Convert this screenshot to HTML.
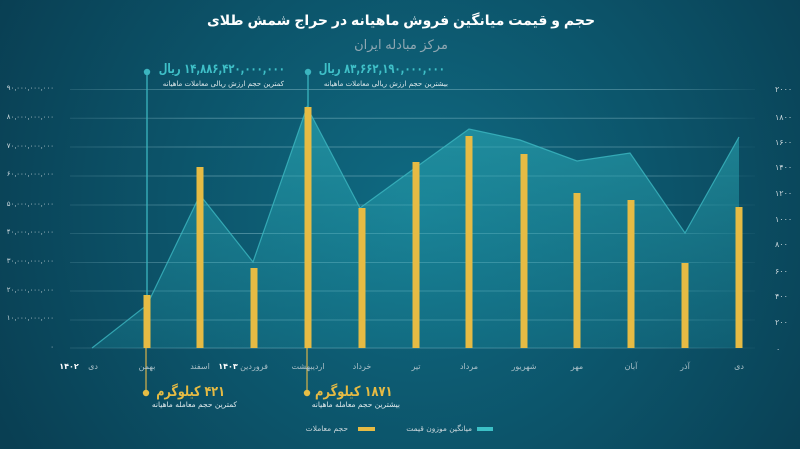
<!DOCTYPE html>
<html><head><meta charset="utf-8">
<style>
html,body{margin:0;padding:0;}
body{width:800px;height:449px;overflow:hidden;background:#0b4a5f;position:relative;}
svg{display:block;position:absolute;left:0;top:0;}
text{font-family:"Liberation Sans","DejaVu Sans",sans-serif;}
.t{position:absolute;white-space:nowrap;direction:rtl;text-align:right;line-height:1;font-family:"DejaVu Sans","Liberation Sans",sans-serif;}
.sx{transform-origin:100% 50%;}
</style></head>
<body>
<svg width="800" height="449" viewBox="0 0 800 449" xmlns="http://www.w3.org/2000/svg">
<defs>
<radialGradient id="bg" cx="420" cy="210" r="470" gradientUnits="userSpaceOnUse">
<stop offset="0" stop-color="#0f6a82"/>
<stop offset="0.55" stop-color="#0c5369"/>
<stop offset="1" stop-color="#093f53"/>
</radialGradient>
<linearGradient id="area" x1="0" y1="100" x2="0" y2="348" gradientUnits="userSpaceOnUse">
<stop offset="0" stop-color="#2fb0bb" stop-opacity="0.6"/>
<stop offset="1" stop-color="#1f97a8" stop-opacity="0.25"/>
</linearGradient>
<linearGradient id="grid" x1="70" y1="0" x2="755" y2="0" gradientUnits="userSpaceOnUse">
<stop offset="0" stop-color="#9fd0da" stop-opacity="0.15"/>
<stop offset="0.2" stop-color="#9fd0da" stop-opacity="0.4"/>
<stop offset="0.85" stop-color="#9fd0da" stop-opacity="0.35"/>
<stop offset="1" stop-color="#9fd0da" stop-opacity="0.05"/>
</linearGradient>
</defs>
<rect width="800" height="449" fill="url(#bg)"/>

<!-- title -->
<text x="401" y="25" text-anchor="middle" font-size="14" font-weight="bold" fill="#ffffff">حجم و قیمت میانگین فروش ماهیانه در حراج شمش طلای</text>
<text x="401" y="49" text-anchor="middle" font-size="13" fill="#8fa7b2">مرکز مبادله ایران</text>

<!-- grid -->
<g stroke="url(#grid)" stroke-width="1">
<line x1="70" y1="89.5" x2="755" y2="89.5"/>
<line x1="70" y1="118.3" x2="755" y2="118.3"/>
<line x1="70" y1="147" x2="755" y2="147"/>
<line x1="70" y1="176" x2="755" y2="176"/>
<line x1="70" y1="205" x2="755" y2="205"/>
<line x1="70" y1="233.5" x2="755" y2="233.5"/>
<line x1="70" y1="262.5" x2="755" y2="262.5"/>
<line x1="70" y1="291" x2="755" y2="291"/>
<line x1="70" y1="320" x2="755" y2="320"/>
<line x1="70" y1="348" x2="755" y2="348"/>
</g>

<!-- area -->
<polygon points="92,348 147,305 200,195 253,262 307,107 360,208 415,168 469,129 520,140 577,161 630,153 685,233 739,137 739,348" fill="url(#area)"/>
<polyline points="92,348 147,305 200,195 253,262 307,107 360,208 415,168 469,129 520,140 577,161 630,153 685,233 739,137" fill="none" stroke="#3cb8c2" stroke-width="1.2" stroke-opacity="0.8"/>

<!-- annotation lines -->
<line x1="147" y1="72" x2="147" y2="295" stroke="#3bb5c0" stroke-width="1.3"/>
<circle cx="147" cy="72" r="3.2" fill="#3bb5c0"/>
<line x1="308" y1="72" x2="308" y2="107" stroke="#3bb5c0" stroke-width="1.3"/>
<circle cx="308" cy="72" r="3.2" fill="#3bb5c0"/>
<line x1="146" y1="348" x2="146" y2="393" stroke="#d8b24a" stroke-width="1.2"/>
<circle cx="146" cy="393" r="3.2" fill="#e6bd45"/>
<line x1="307" y1="348" x2="307" y2="393" stroke="#d8b24a" stroke-width="1.2"/>
<circle cx="307" cy="393" r="3.2" fill="#e6bd45"/>

<!-- bars -->
<g fill="#e6bb44">
<rect x="143.5" y="295" width="7" height="53"/>
<rect x="196.5" y="167" width="7" height="181"/>
<rect x="250.5" y="268" width="7" height="80"/>
<rect x="304.5" y="107" width="7" height="241"/>
<rect x="358.5" y="208" width="7" height="140"/>
<rect x="412.5" y="162" width="7" height="186"/>
<rect x="465.5" y="136" width="7" height="212"/>
<rect x="520.5" y="154" width="7" height="194"/>
<rect x="573.5" y="193" width="7" height="155"/>
<rect x="627.5" y="200" width="7" height="148"/>
<rect x="681.5" y="263" width="7" height="85"/>
<rect x="735.5" y="207" width="7" height="141"/>
</g>

<!-- left axis -->
<g font-size="7" fill="#c9d6db" text-anchor="end">
<text x="54" y="90">۹۰,۰۰۰,۰۰۰,۰۰۰</text>
<text x="54" y="119">۸۰,۰۰۰,۰۰۰,۰۰۰</text>
<text x="54" y="148">۷۰,۰۰۰,۰۰۰,۰۰۰</text>
<text x="54" y="176">۶۰,۰۰۰,۰۰۰,۰۰۰</text>
<text x="54" y="206">۵۰,۰۰۰,۰۰۰,۰۰۰</text>
<text x="54" y="234">۴۰,۰۰۰,۰۰۰,۰۰۰</text>
<text x="54" y="263">۳۰,۰۰۰,۰۰۰,۰۰۰</text>
<text x="54" y="292">۲۰,۰۰۰,۰۰۰,۰۰۰</text>
<text x="54" y="320">۱۰,۰۰۰,۰۰۰,۰۰۰</text>
<text x="54" y="349">۰</text>
</g>

<!-- right axis -->
<g font-size="8" fill="#c9d6db" text-anchor="start">
<text x="775" y="92">۲۰۰۰</text>
<text x="775" y="120">۱۸۰۰</text>
<text x="775" y="145">۱۶۰۰</text>
<text x="775" y="170">۱۴۰۰</text>
<text x="775" y="196">۱۲۰۰</text>
<text x="775" y="222">۱۰۰۰</text>
<text x="775" y="247">۸۰۰</text>
<text x="775" y="274">۶۰۰</text>
<text x="775" y="299">۴۰۰</text>
<text x="775" y="325">۲۰۰</text>
<text x="776" y="352">۰</text>
</g>

<!-- x labels -->
<g font-size="8" fill="#aac0c8" text-anchor="middle">
<text x="93" y="369">دی</text>
<text x="147" y="369">بهمن</text>
<text x="200" y="369">اسفند</text>
<text x="254" y="369">فروردین</text>
<text x="308" y="369">اردیبهشت</text>
<text x="362" y="369">خرداد</text>
<text x="416" y="369">تیر</text>
<text x="469" y="369">مرداد</text>
<text x="524" y="369">شهریور</text>
<text x="577" y="369">مهر</text>
<text x="631" y="369">آبان</text>
<text x="685" y="369">آذر</text>
<text x="739" y="369">دی</text>
</g>
<text x="69" y="369" font-size="8" font-weight="bold" fill="#ffffff" text-anchor="middle">۱۴۰۲</text>
<text x="228" y="369" font-size="8" font-weight="bold" fill="#ffffff" text-anchor="middle">۱۴۰۳</text>

<!-- legend rects -->
<rect x="358" y="427" width="17" height="4" fill="#e6bb44"/>
<rect x="477" y="427" width="16" height="4" fill="#3cc0c6"/>
</svg>

<!-- top annotations -->
<div class="t sx" style="right:515px;top:63px;font-size:13px;font-weight:bold;color:#3fc0c8;transform:scaleX(0.77);">۱۴,۸۸۶,۴۲۰,۰۰۰,۰۰۰ ریال</div>
<div class="t" style="right:516px;top:81px;font-size:7px;color:#dfe9ec;">کمترین حجم ارزش ریالی معاملات ماهیانه</div>
<div class="t sx" style="right:355px;top:63px;font-size:13px;font-weight:bold;color:#3fc0c8;transform:scaleX(0.77);">۸۳,۶۶۲,۱۹۰,۰۰۰,۰۰۰ ریال</div>
<div class="t" style="right:352px;top:81px;font-size:7px;color:#dfe9ec;">بیشترین حجم ارزش ریالی معاملات ماهیانه</div>

<!-- bottom annotations -->
<div class="t sx" style="right:575px;top:385px;font-size:14px;font-weight:bold;color:#e6bb44;transform:scaleX(0.8);">۴۲۱ کیلوگرم</div>
<div class="t" style="right:563px;top:401px;font-size:7.5px;color:#dfe9ec;">کمترین حجم معامله ماهیانه</div>
<div class="t sx" style="right:407px;top:385px;font-size:14px;font-weight:bold;color:#e6bb44;transform:scaleX(0.82);">۱۸۷۱ کیلوگرم</div>
<div class="t" style="right:400px;top:401px;font-size:7.5px;color:#dfe9ec;">بیشترین حجم معامله ماهیانه</div>

<!-- legend texts -->
<div class="t" style="right:452px;top:425px;font-size:7.5px;color:#c9d6db;">حجم معاملات</div>
<div class="t" style="right:328px;top:425px;font-size:7.5px;color:#c9d6db;">میانگین موزون قیمت</div>
</body></html>
